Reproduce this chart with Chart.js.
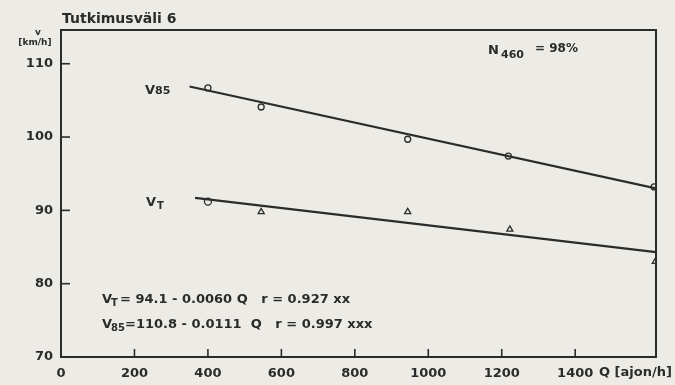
<!DOCTYPE html>
<html>
<head>
<meta charset="utf-8">
<script src="https://cdn.jsdelivr.net/npm/chart.js@4"></script>
<style>
  html, body { margin: 0; padding: 0; background: #ecebe6; }
  #wrap { width: 675px; height: 385px; position: relative; }
</style>
</head>
<body>
<div id="wrap"><canvas id="chart" width="675" height="385"></canvas></div>
<script>
// values
const xTicks = [0, 200, 400, 600, 800, 1000, 1200, 1400];
const yTicks = [70, 80, 90, 100, 110];

const v85Q = [400, 545, 944, 1218, 1615];
const v85V = [106.7, 104.1, 99.7, 97.4, 93.2];

const vtQ = [400, 545, 944, 1222, 1618];
const vtV = [91.2, 89.8, 89.8, 87.4, 83.0];
const vtStyle = ["circle", "triangle", "triangle", "triangle", "triangle"];

// regression lines, end points
const v85LineQ = [350, 1620];
const v85LineV = [106.9, 93.0];
const vtLineQ = [365, 1620];
const vtLineV = [91.7, 84.3];

const ink = "#2b2b2b";
const font = "'DejaVu Sans', sans-serif";

function pts(xs, ys) {
  return xs.map((x, i) => ({ x: x, y: ys[i] }));
}

// ticks pointing into the plot, frame and text
const paperPlugin = {
  id: "paper",
  afterDraw(chart) {
    const c = chart.ctx;
    const a = chart.chartArea;
    const sx = chart.scales.x, sy = chart.scales.y;
    c.save();
    c.strokeStyle = ink;
    c.lineWidth = 2;
    c.strokeRect(a.left, a.top, a.right - a.left, a.bottom - a.top);
    c.lineWidth = 1.6;
    xTicks.forEach(t => {
      if (t === 0) return;
      const px = sx.getPixelForValue(t);
      c.beginPath(); c.moveTo(px, a.bottom); c.lineTo(px, a.bottom - 8); c.stroke();
    });
    yTicks.forEach(t => {
      if (t === 70) return;
      const py = sy.getPixelForValue(t);
      c.beginPath(); c.moveTo(a.left, py); c.lineTo(a.left + 9, py); c.stroke();
    });

    c.fillStyle = ink;
    c.textBaseline = "alphabetic";
    c.textAlign = "left";
    c.font = "bold 14px " + font;
    c.fillText("Tutkimusväli 6", 62, 23);

    c.font = "bold 9px " + font;
    c.textAlign = "center";
    c.fillText("v", 38, 35);
    c.fillText("[km/h]", 35, 45);

    // N460 = 98%
    c.textAlign = "left";
    c.font = "bold 13px " + font;
    c.fillText("N", 488, 54);
    c.font = "bold 11px " + font;
    c.fillText("460", 501, 58);
    c.font = "bold 12px " + font;
    c.fillText("= 98%", 535, 52);

    // series labels
    c.font = "bold 13px " + font;
    c.fillText("V", 145, 94);
    c.font = "bold 11px " + font;
    c.fillText("85", 155, 94);
    c.font = "bold 13px " + font;
    c.fillText("V", 146, 206);
    c.font = "bold 10px " + font;
    c.fillText("T", 157, 209);

    // equations
    c.font = "bold 13px " + font;
    c.fillText("V", 102, 303);
    c.font = "bold 10px " + font;
    c.fillText("T", 111, 306);
    c.font = "bold 13px " + font;
    c.fillText("= 94.1 - 0.0060 Q   r = 0.927 xx", 120, 303);
    c.fillText("V", 102, 328);
    c.font = "bold 10px " + font;
    c.fillText("85", 111, 331);
    c.font = "bold 13px " + font;
    c.fillText("=110.8 - 0.0111  Q   r = 0.997 xxx", 125, 328);

    c.fillText("Q [ajon/h]", 599, 376);
    c.restore();
  }
};

new Chart(document.getElementById("chart"), {
  type: "scatter",
  data: {
    datasets: [
      {
        type: "line",
        data: pts(v85LineQ, v85LineV),
        borderColor: ink, borderWidth: 2.2, pointRadius: 0
      },
      {
        type: "line",
        data: pts(vtLineQ, vtLineV),
        borderColor: ink, borderWidth: 2.2, pointRadius: 0
      },
      {
        data: pts(v85Q, v85V),
        pointStyle: "circle", pointRadius: 3,
        borderColor: ink, borderWidth: 1.3, backgroundColor: "#ecebe6"
      },
      {
        data: pts(vtQ, vtV),
        pointStyle: vtStyle, pointRadius: 3.5,
        borderColor: ink, borderWidth: 1.3, backgroundColor: "#ecebe6"
      }
    ]
  },
  options: {
    responsive: false,
    animation: false,
    layout: { padding: { top: 30, right: 19, left: 0, bottom: 0 } },
    plugins: { legend: { display: false }, tooltip: { enabled: false } },
    scales: {
      x: {
        type: "linear", min: 0, max: 1620,
        afterBuildTicks: s => { s.ticks = xTicks.map(v => ({ value: v })); },
        afterFit: s => { s.height = 28; },
        grid: { display: false },
        border: { display: false },
        ticks: {
          color: ink, font: { family: font, size: 13, weight: "bold" }, padding: 1,
          callback: v => String(v)
        }
      },
      y: {
        min: 70, max: 114.6,
        afterBuildTicks: s => { s.ticks = yTicks.map(v => ({ value: v })); },
        afterFit: s => { s.width = 61; },
        grid: { display: false },
        border: { display: false },
        ticks: {
          color: ink, font: { family: font, size: 13, weight: "bold" }, padding: 0,
          callback: v => String(v)
        }
      }
    }
  },
  plugins: [paperPlugin]
});
</script>
</body>
</html>
